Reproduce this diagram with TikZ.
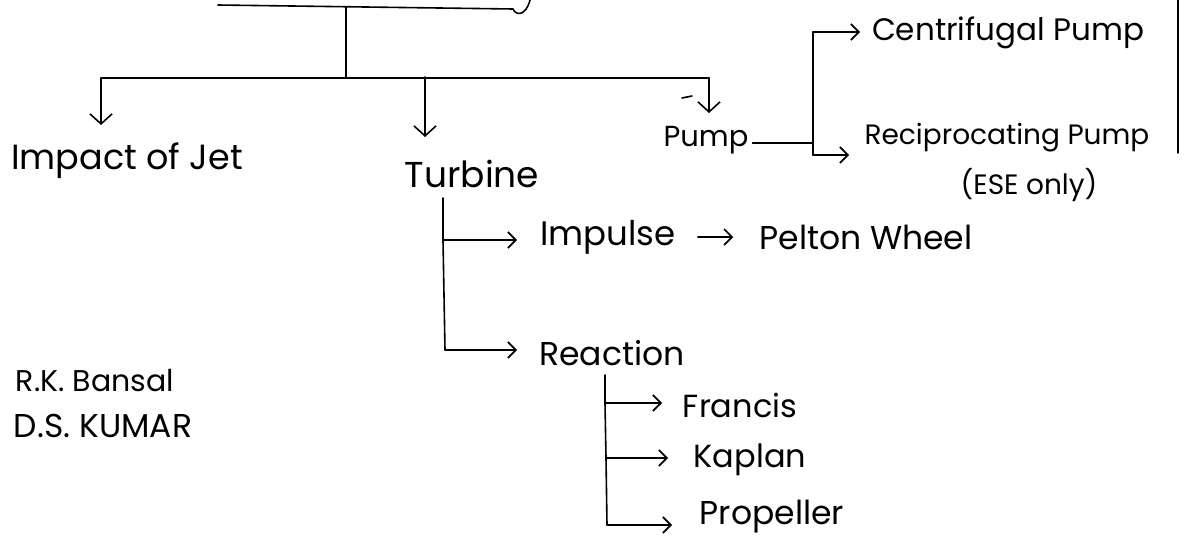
\documentclass[tikz,border=0pt]{standalone}
\usepackage{fontspec}
\setmainfont{Poppins}
\usetikzlibrary{arrows.meta}
\newcommand{\fs}[1]{\fontsize{#1}{#1}\selectfont}
\tikzset{
  ln/.style={line width=1.6pt, line cap=round, line join=round},
  arr/.style={ln, -{Straight Barb[length=8pt,width=16pt,line width=1.6pt]}},
  darr/.style={ln, -{Straight Barb[length=10pt,width=22pt,line width=1.6pt]}},
  txt/.style={inner sep=0pt},
}
\begin{document}
\begin{tikzpicture}[x=1pt,y=-1pt]
\useasboundingbox (0,0) rectangle (1192,546);
% texts
\node[txt, font=\fs{35}] (jet) at (127,161) {Impact of Jet};
\node[txt, font=\fs{36}] (turb) at (472,174) {Turbine};
\node[txt, font=\fs{29}] (pump) at (706,140) {Pump};
\node[txt, font=\fs{31}] (cent) at (1008,33) {Centrifugal Pump};
\node[txt, font=\fs{28}] (recip) at (1007,138) {Reciprocating Pump};
\node[txt, font=\fs{28}] (ese) at (1029,185) {(ESE only)};
\node[txt, font=\fs{34}] (imp) at (608,237) {Impulse};
\node[txt, font=\fs{33}] (pel) at (866,237) {Pelton Wheel};
\node[txt, font=\fs{33}] (reac) at (612,353) {Reaction};
\node[txt, font=\fs{32}] (fra) at (740,405) {Francis};
\node[txt, font=\fs{32}] (kap) at (750,460) {Kaplan};
\node[txt, font=\fs{33}] (pro) at (772,517) {Propeller};
\node[txt, font=\fs{30}] (rkb) at (95,381) {R.K. Bansal};
\node[txt, font=\fs{33}] (dsk) at (103,426) {D.S. KUMAR};
% top
\coordinate (t0) at (218,5);
\coordinate (t1) at (513,9);
\coordinate (r0) at (346,7);
\coordinate (r1) at (346,77);
\draw[ln] (t0) -- (t1) .. controls (516,16) and (526,16) .. (530,0);
\draw[ln] (r0) -- (r1);
% bus
\coordinate (bL) at (101,78);
\coordinate (bM) at (425,77);
\coordinate (bR) at (709,78);
\draw[ln] (bL) -- (bR);
\coordinate (aL) at (101,125);
\coordinate (aM) at (425,137);
\coordinate (aR) at (709,113);
\draw[darr] (bL) -- (aL);
\draw[darr] (bM) -- (aM);
\draw[darr] (bR) -- (aR);
\coordinate (tk0) at (682,98);
\coordinate (tk1) at (692,96);
\draw[ln] (tk0) -- (tk1);
% pump branch
\coordinate (p0) at (813,143);
\coordinate (pT) at (813,32);
\coordinate (pB) at (813,155);
\coordinate (pTa) at (860,32);
\coordinate (pBa) at (849,155);
\draw[ln] ([xshift=4pt]pump.east |- p0) -- (p0);
\draw[ln] (pT) -- (pB);
\draw[arr] (pT) -- (pTa);
\draw[arr] (pB) -- (pBa);
\coordinate (bar0) at (1178,0);
\coordinate (bar1) at (1178,153);
\draw[ln] (bar0) -- (bar1);
% turbine branch
\coordinate (tv0) at (443,198);
\coordinate (tv1) at (443,240);
\coordinate (tv2) at (445,350);
\coordinate (tva) at (517,240);
\coordinate (tvb) at (517,350);
\draw[ln] (tv0) -- (tv1) -- (tv2);
\draw[arr] (tv1) -- (tva);
\draw[arr] (tv2) -- (tvb);
\draw[arr] ([xshift=22pt]imp.east) -- ([xshift=-26pt]pel.west);
% reaction branch
\coordinate (rv0) at (605,375);
\coordinate (rv1) at (605,403);
\coordinate (rv2) at (606,458);
\coordinate (rv3) at (607,525);
\coordinate (rva) at (662,403);
\coordinate (rvb) at (668,458);
\coordinate (rvc) at (672,525);
\draw[ln] (rv0) -- (rv1) -- (rv2) -- (rv3);
\draw[arr] (rv1) -- (rva);
\draw[arr] (rv2) -- (rvb);
\draw[arr] (rv3) -- (rvc);
\end{tikzpicture}
\end{document}
